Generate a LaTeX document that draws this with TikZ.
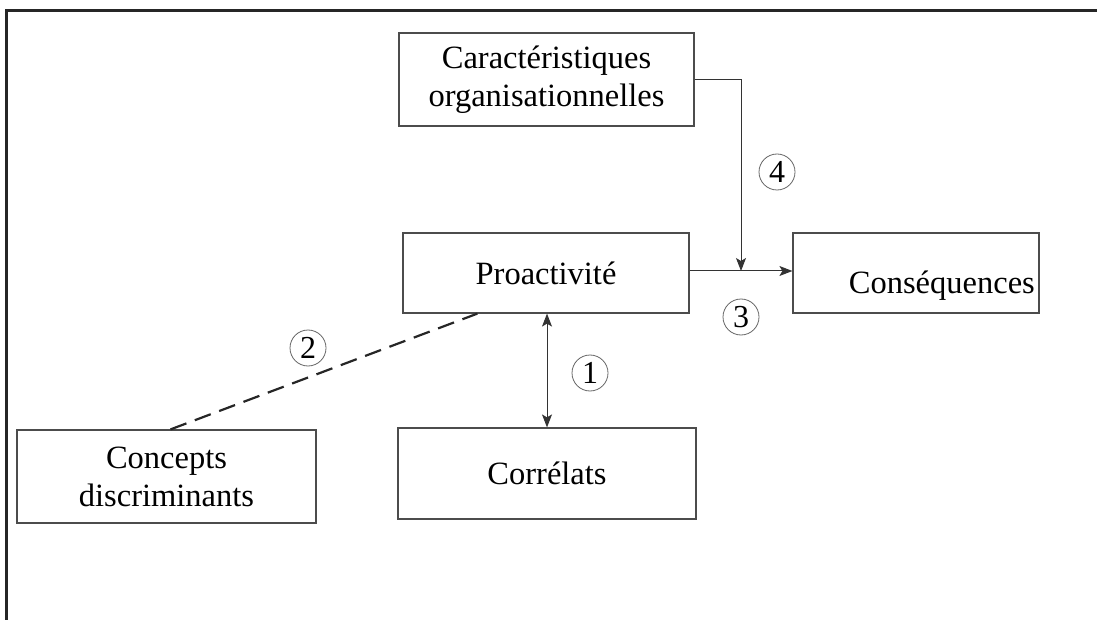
\documentclass[tikz,border=0pt]{standalone}
\usepackage{fontspec}
\setmainfont{Liberation Serif}
\usetikzlibrary{arrows.meta,calc}
\begin{document}
\begin{tikzpicture}[x=1pt,y=-1pt,
  box/.style={draw=black!70, line width=1.2pt, inner sep=0pt, align=center,
    font=\fontsize{32.5}{38}\selectfont},
  link/.style={draw=black!80, line width=1pt},
  tip/.style={-{Stealth[length=13pt,width=10pt,inset=3pt]}},
  bothtips/.style={{Stealth[length=13pt,width=10pt,inset=3pt]}-{Stealth[length=13pt,width=10pt,inset=3pt]}},
  num/.style={circle, draw=black!60, line width=0.8pt, minimum size=36pt,
    inner sep=0pt, font=\fontsize{32}{32}\selectfont}]
  \useasboundingbox (0,0) rectangle (1097,620);

  % outer frame (top and left rules)
  \draw[line width=3pt, black!85] (1097,11) -- (6,11) -- (6,620);

  % boxes
  \node[box, minimum width=295pt, minimum height=93pt] (carac) at (546.5,79.5)
    {Caractéristiques\\organisationnelles};
  \node[box, minimum width=286pt, minimum height=80pt] (proact) at (546,273)
    {Proactivité};
  \node[box, minimum width=246pt, minimum height=80pt] (conseq) at (916,273) {};
  \node[font=\fontsize{32.5}{38}\selectfont, inner sep=0pt, anchor=base east]
    (conseqtext) at (1035,293) {Conséquences};
  \node[box, minimum width=298pt, minimum height=91pt] (correl) at (547,473.5)
    {Corrélats};
  \node[box, minimum width=299pt, minimum height=93pt] (concepts) at (166.5,476.5)
    {Concepts\\discriminants};

  % connectors
  \coordinate (join) at (741,271);
  \draw[link,tip] (proact.east |- join) -- (conseq.west |- join);
  \draw[link,tip] (carac.east) -| (join);
  \draw[link,bothtips] (proact.south -| correl.north) -- (correl.north);
  \draw[black!85, line width=2.2pt, dash pattern=on 17pt off 9pt]
    ([xshift=4pt]concepts.north) -- ([xshift=75pt]proact.south west);

  % numbered markers
  \node[num] (n1) at (590,373) {1};
  \node[num] (n2) at (308,348) {2};
  \node[num] (n3) at (741,317) {3};
  \node[num] (n4) at (777,172) {4};
\end{tikzpicture}
\end{document}
